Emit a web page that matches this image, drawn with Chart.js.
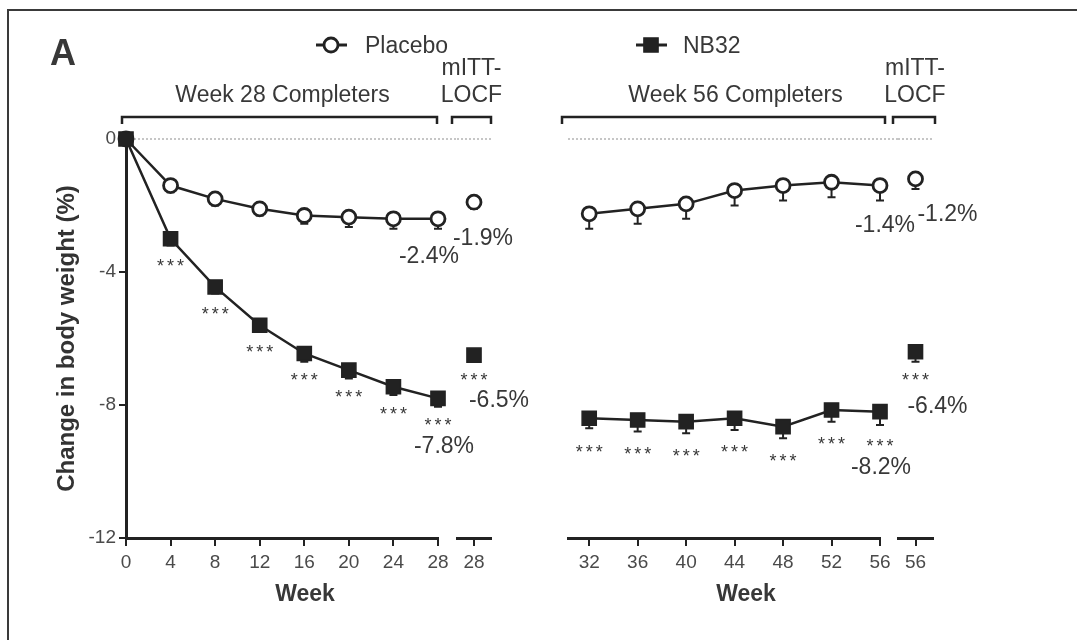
<!DOCTYPE html>
<html>
<head>
<meta charset="utf-8">
<script src="https://cdn.jsdelivr.net/npm/chart.js@4.4.1/dist/chart.umd.min.js"></script>
<style>
  html, body { margin: 0; padding: 0; background: #fff; }
  #wrap { position: relative; width: 1077px; height: 640px; overflow: hidden; }
  #wrap canvas { position: absolute; left: 0; top: 0; }
  #frame { position: absolute; left: 7px; top: 9px; width: 1100px; height: 660px;
           border-top: 2px solid #3a3a3a; border-left: 2px solid #3a3a3a; }
</style>
</head>
<body>
<div id="wrap">
  <div id="frame"></div>
  <canvas id="c1" width="1077" height="640"></canvas>
  <canvas id="c2" width="1077" height="640"></canvas>
  <canvas id="c3" width="1077" height="640"></canvas>
  <canvas id="c4" width="1077" height="640"></canvas>
</div>
<script>
// Weight change over time, week 28 / week 56 completers + mITT-LOCF
//
// four small charts laid over each other, one per axis segment

// --- data ---
const weeks28 = [0, 4, 8, 12, 16, 20, 24, 28];
const placebo28 = [0, -1.4, -1.8, -2.1, -2.3, -2.35, -2.4, -2.4];
const placebo28Err = [0, 0.2, 0.2, 0.2, 0.25, 0.3, 0.3, 0.3];
const nb32_28 = [0, -3.0, -4.45, -5.6, -6.45, -6.95, -7.45, -7.8];
const nb32_28Err = [0, 0.2, 0.2, 0.2, 0.25, 0.25, 0.25, 0.25];

const locfWeek28 = [28];
const placeboLocf28 = [-1.9];
const nb32Locf28 = [-6.5];

const weeks56 = [32, 36, 40, 44, 48, 52, 56];
const placebo56 = [-2.25, -2.1, -1.95, -1.55, -1.4, -1.3, -1.4];
const placebo56Err = [0.45, 0.45, 0.45, 0.45, 0.45, 0.45, 0.45];
const nb32_56 = [-8.4, -8.45, -8.5, -8.4, -8.65, -8.15, -8.2];
const nb32_56Err = [0.3, 0.35, 0.35, 0.35, 0.35, 0.35, 0.4];

const locfWeek56 = [56];
const placeboLocf56 = [-1.2];
const nb32Locf56 = [-6.4];

const yTicks = [0, -4, -8, -12];

// --- style ---
const INK = '#222';
const TEXT = '#383838';
const FONT = '"Liberation Sans", Arial, sans-serif';

// extra drawing: zero line, error bars, stars, value labels, brackets
const decor = {
    id: 'decor',
    beforeDatasetsDraw(chart, args, o) {
        const { ctx, chartArea: a, scales: { x, y } } = chart;
        ctx.save();
        const y0 = y.getPixelForValue(0);
        ctx.strokeStyle = '#c6c6c6';
        ctx.lineWidth = 2;
        ctx.setLineDash([2, 2]);
        ctx.beginPath();
        ctx.moveTo(a.left + o.zero[0], y0);
        ctx.lineTo(a.right + o.zero[1], y0);
        ctx.stroke();
        ctx.setLineDash([]);

        // error bars, one sided (down)
        ctx.strokeStyle = INK;
        ctx.lineWidth = 2;
        chart.data.datasets.forEach(ds => {
            if (!ds.errors) return;
            ds.data.forEach((p, i) => {
                const se = ds.errors[i];
                if (!se) return;
                const px = x.getPixelForValue(p.x);
                const pe = y.getPixelForValue(p.y - se);
                ctx.beginPath();
                ctx.moveTo(px, y.getPixelForValue(p.y));
                ctx.lineTo(px, pe);
                ctx.moveTo(px - 4, pe);
                ctx.lineTo(px + 4, pe);
                ctx.stroke();
            });
        });
        ctx.restore();
    },
    afterDatasetsDraw(chart, args, o) {
        const { ctx, chartArea: a, scales: { x, y } } = chart;
        const sets = chart.data.datasets;
        ctx.save();
        ctx.fillStyle = TEXT;
        ctx.textAlign = 'center';
        ctx.textBaseline = 'alphabetic';

        // *** under every NB32 point after baseline
        ctx.font = `18px ${FONT}`;
        ctx.letterSpacing = '3px';
        sets.forEach(ds => {
            if (!ds.stars) return;
            ds.data.forEach(p => {
                if (p.y === 0) return;
                ctx.fillText('***', x.getPixelForValue(p.x) + 1.5, y.getPixelForValue(p.y) + o.starDy);
            });
        });
        ctx.letterSpacing = '0px';

        // end values
        ctx.font = `23px ${FONT}`;
        o.labels.forEach(l => {
            const p = sets[l.ds].data[l.i];
            ctx.fillText(p.y.toFixed(1) + '%', x.getPixelForValue(p.x) + l.dx, y.getPixelForValue(p.y) + l.dy);
        });

        // bracket and its header
        const yb = a.top - 22;
        const x1 = a.left + o.bracket[0];
        const x2 = a.right + o.bracket[1];
        ctx.strokeStyle = INK;
        ctx.lineWidth = 2.5;
        ctx.beginPath();
        ctx.moveTo(x1, yb + 7);
        ctx.lineTo(x1, yb);
        ctx.lineTo(x2, yb);
        ctx.lineTo(x2, yb + 7);
        ctx.stroke();
        const cx = (x1 + x2) / 2 + o.headerDx;
        o.header.slice().reverse().forEach((t, k) => ctx.fillText(t, cx, a.top - 37 - 27 * k));

        if (o.xTitle) {
            ctx.font = `bold 23px ${FONT}`;
            ctx.fillText(o.xTitle, a.left + o.xTitleDx, a.bottom + 63);
        }

        // panel letter + legend (first chart only)
        if (o.legend) {
            ctx.font = `bold 36px ${FONT}`;
            ctx.fillText('A', 63, 65);
            ctx.font = `23px ${FONT}`;
            ctx.textAlign = 'left';
            o.legend.forEach(it => {
                const ds = sets[it.ds];
                ctx.strokeStyle = INK;
                ctx.lineWidth = 3;
                ctx.beginPath();
                ctx.moveTo(it.x - 15, it.y);
                ctx.lineTo(it.x + 16, it.y);
                ctx.stroke();
                ctx.fillStyle = ds.pointBackgroundColor;
                ctx.lineWidth = ds.pointBorderWidth;
                ctx.beginPath();
                if (ds.pointStyle === 'rect') {
                    const s = ds.pointRadius * Math.SQRT1_2;
                    ctx.rect(it.x - s, it.y - s, 2 * s, 2 * s);
                } else {
                    ctx.arc(it.x, it.y, ds.pointRadius, 0, Math.PI * 2);
                }
                ctx.fill();
                ctx.stroke();
                ctx.fillStyle = TEXT;
                ctx.fillText(ds.label, it.tx, it.y + 8);
            });
        }
        ctx.restore();
    }
};

function placeboSet(weeks, vals, errs) {
    return {
        label: 'Placebo',
        order: 1,
        data: weeks.map((w, i) => ({ x: w, y: vals[i] })),
        errors: errs,
        showLine: weeks.length > 1,
        borderColor: INK,
        borderWidth: 2.5,
        pointStyle: 'circle',
        pointRadius: 7,
        pointBorderWidth: 2.8,
        pointBorderColor: INK,
        pointBackgroundColor: '#fff',
        clip: false
    };
}

function nb32Set(weeks, vals, errs) {
    return {
        label: 'NB32',
        order: 0, // drawn on top (week 0 square covers the circle)
        data: weeks.map((w, i) => ({ x: w, y: vals[i] })),
        errors: errs,
        stars: true,
        showLine: weeks.length > 1,
        borderColor: INK,
        borderWidth: 2.5,
        pointStyle: 'rect',
        pointRadius: 10,
        pointBorderWidth: 1.5,
        pointBorderColor: INK,
        pointBackgroundColor: INK,
        clip: false
    };
}

function drawPanel(id, cfg) {
    const tickFont = { family: FONT, size: 19 };
    return new Chart(document.getElementById(id), {
        type: 'line',
        data: { datasets: cfg.datasets },
        plugins: [decor],
        options: {
            responsive: false,
            animation: false,
            devicePixelRatio: 1,
            layout: { padding: { left: cfg.left, right: cfg.right, top: 139, bottom: 0 } },
            plugins: {
                legend: { display: false },
                tooltip: { enabled: false },
                decor: cfg.decor
            },
            scales: {
                x: {
                    type: 'linear',
                    min: cfg.xMin,
                    max: cfg.xMax,
                    afterFit: s => { s.height = 102; },
                    afterBuildTicks: s => { s.ticks = cfg.xTicks.map(v => ({ value: v })); },
                    grid: { drawOnChartArea: false, tickLength: 8, color: INK, lineWidth: 2 },
                    border: { color: INK, width: 3 },
                    ticks: { color: '#4a4a4a', font: tickFont, padding: 5, maxRotation: 0, autoSkip: false }
                },
                y: {
                    min: -12,
                    max: 0,
                    display: cfg.yAxis,
                    afterFit: s => { s.width = cfg.yAxis ? 126 : 0; },
                    afterBuildTicks: s => { s.ticks = yTicks.map(v => ({ value: v })); },
                    grid: { drawOnChartArea: false, tickLength: 7, color: INK, lineWidth: 2 },
                    border: { color: INK, width: 3 },
                    ticks: { color: '#4a4a4a', font: tickFont, padding: 3 },
                    title: {
                        display: true,
                        text: 'Change in body weight (%)',
                        color: '#333',
                        font: { family: FONT, size: 24, weight: 'bold' },
                        padding: { top: 53, bottom: 0 }
                    }
                }
            }
        }
    });
}

drawPanel('c1', {
    left: 0, right: 639, yAxis: true,
    xMin: 0, xMax: 28, xTicks: weeks28,
    datasets: [placeboSet(weeks28, placebo28, placebo28Err), nb32Set(weeks28, nb32_28, nb32_28Err)],
    decor: {
        zero: [4, 19], bracket: [-4, -1], headerDx: 3, header: ['Week 28 Completers'],
        starDy: 33, xTitle: 'Week', xTitleDx: 179,
        labels: [{ ds: 0, i: 7, dx: -9, dy: 44 }, { ds: 1, i: 7, dx: 6, dy: 55 }],
        legend: [{ ds: 0, x: 331, y: 45, tx: 365 }, { ds: 1, x: 651, y: 45, tx: 683 }]
    }
});

drawPanel('c2', {
    left: 457, right: 586, yAxis: false,
    xMin: 27, xMax: 29, xTicks: locfWeek28,
    datasets: [placeboSet(locfWeek28, placeboLocf28, [0.2]), nb32Set(locfWeek28, nb32Locf28, [0.2])],
    decor: {
        zero: [0, 1], bracket: [-5, 0], headerDx: 0, header: ['mITT-', 'LOCF'],
        starDy: 31,
        labels: [{ ds: 0, i: 0, dx: 9, dy: 43 }, { ds: 1, i: 0, dx: 25, dy: 52 }]
    }
});

drawPanel('c3', {
    left: 568, right: 197, yAxis: false,
    xMin: 30.25, xMax: 56, xTicks: weeks56,
    datasets: [placeboSet(weeks56, placebo56, placebo56Err), nb32Set(weeks56, nb32_56, nb32_56Err)],
    decor: {
        zero: [0, 18], bracket: [-6, 5], headerDx: 12, header: ['Week 56 Completers'],
        starDy: 40, xTitle: 'Week', xTitleDx: 178,
        labels: [{ ds: 0, i: 6, dx: 5, dy: 46 }, { ds: 1, i: 6, dx: 1, dy: 62 }]
    }
});

drawPanel('c4', {
    left: 898, right: 144, yAxis: false,
    xMin: 55, xMax: 57, xTicks: locfWeek56,
    datasets: [placeboSet(locfWeek56, placeboLocf56, [0.3]), nb32Set(locfWeek56, nb32Locf56, [0.3])],
    decor: {
        zero: [0, 0], bracket: [-5, 2], headerDx: 1, header: ['mITT-', 'LOCF'],
        starDy: 34,
        labels: [{ ds: 0, i: 0, dx: 32, dy: 42 }, { ds: 1, i: 0, dx: 22, dy: 61 }]
    }
});
</script>
</body>
</html>
